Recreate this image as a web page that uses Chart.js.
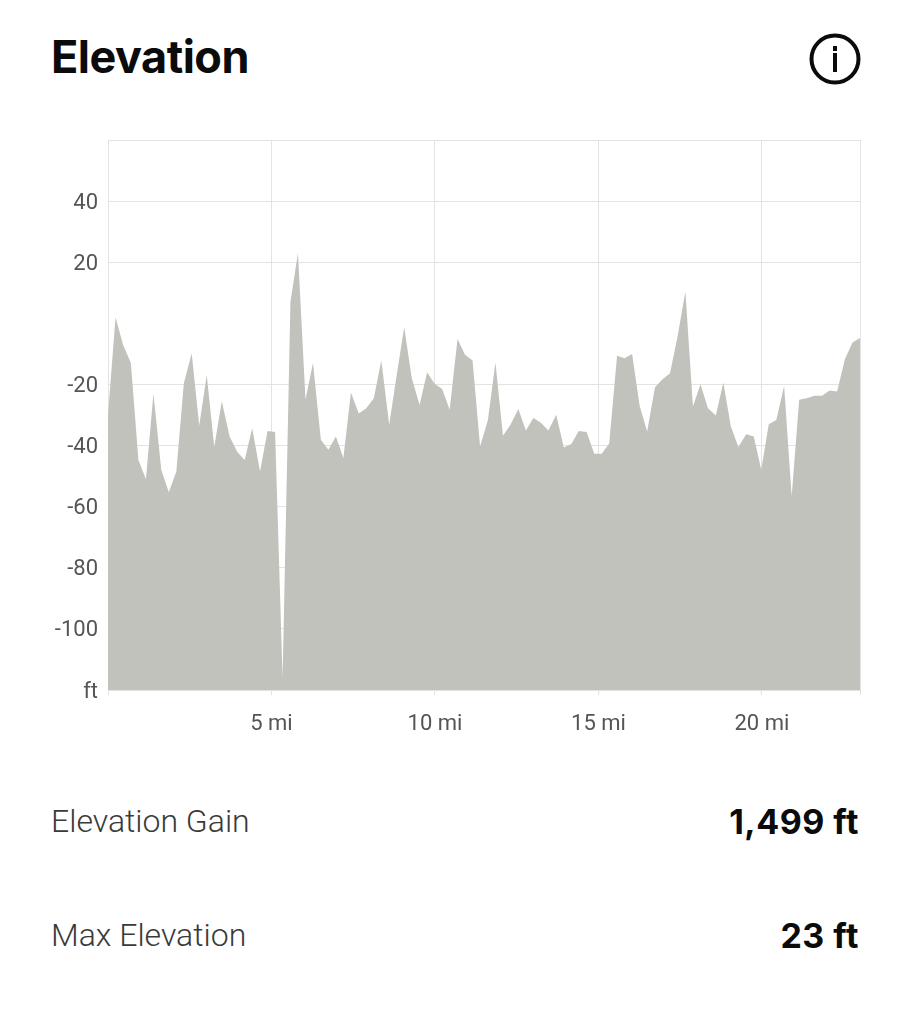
<!DOCTYPE html>
<html>
<head>
<meta charset="utf-8">
<title>Elevation</title>
<script src="https://cdn.jsdelivr.net/npm/chart.js@4"></script>
<style>
  html, body { margin: 0; padding: 0; background: #fff; }
  #page { position: relative; width: 911px; height: 1024px; overflow: hidden; font-family: Inter, sans-serif; }
  #title { position: absolute; left: 51px; top: 31px; font-size: 45px; line-height: 52px; font-weight: 700; color: #0b0b0b; letter-spacing: -0.5px; }
  #info { position: absolute; left: 809px; top: 33px; }
  #chartWrap { position: absolute; left: 0; top: 0; width: 911px; height: 760px; }
  .stat { position: absolute; left: 51px; width: 808px; display: flex; justify-content: space-between; align-items: baseline; }
  .stat .name { position: relative; top: -2px; font-family: Roboto, sans-serif; font-size: 32px; font-weight: 300; color: #3a3a3a; }
  .stat .val { font-size: 34px; font-weight: 700; color: #0b0b0b; letter-spacing: 0.5px; }
</style>
</head>
<body>
<div id="page">
  <div id="title">Elevation</div>
  <svg id="info" width="52" height="52" viewBox="0 0 52 52">
    <circle cx="26" cy="26" r="23.5" fill="none" stroke="#0b0b0b" stroke-width="4"/>
    <rect x="24" y="20" width="4" height="19" fill="#0b0b0b"/>
    <rect x="24" y="13" width="4" height="5" fill="#0b0b0b"/>
  </svg>
  <div id="chartWrap"><canvas id="elevChart"></canvas></div>
  <div class="stat" style="top:801px"><span class="name" id="gainName"></span><span class="val" id="gainVal"></span></div>
  <div class="stat" style="top:915px"><span class="name" id="maxName"></span><span class="val" id="maxVal"></span></div>
</div>
<script>
const miles = [
  0, 0.23, 0.46, 0.70, 0.93, 1.16, 1.39, 1.63, 1.86, 2.09,
  2.32, 2.56, 2.79, 3.02, 3.25, 3.48, 3.72, 3.95, 4.18, 4.41,
  4.65, 4.88, 5.11, 5.34, 5.58, 5.81, 6.04, 6.27, 6.51, 6.74,
  6.97, 7.20, 7.43, 7.67, 7.90, 8.13, 8.36, 8.60, 8.83, 9.06,
  9.29, 9.53, 9.76, 9.99, 10.22, 10.45, 10.69, 10.92, 11.15, 11.38,
  11.62, 11.85, 12.08, 12.31, 12.55, 12.78, 13.01, 13.24, 13.47, 13.71,
  13.94, 14.17, 14.40, 14.64, 14.87, 15.10, 15.33, 15.57, 15.80, 16.03,
  16.26, 16.49, 16.73, 16.96, 17.19, 17.42, 17.66, 17.89, 18.12, 18.35,
  18.59, 18.82, 19.05, 19.28, 19.52, 19.75, 19.98, 20.21, 20.44, 20.68,
  20.91, 21.14, 21.37, 21.61, 21.84, 22.07, 22.30, 22.54, 22.77, 23
];
const elevation = [
  -30, 2, -7, -13, -44.7, -51, -23, -48, -55.3, -48.5,
  -19.6, -9.8, -33.5, -16.9, -40.5, -25.5, -37, -42, -44.7, -34.3,
  -48.5, -35.2, -35.6, -116, 7.1, 23, -25, -13, -38.1, -41.4,
  -37, -44.1, -22.6, -29.5, -27.8, -24.5, -12.2, -33.2, -16.9, -1.3,
  -17.9, -26.7, -16, -19.8, -21.5, -28.3, -5.1, -10.3, -12.2, -40.3,
  -31.6, -12.8, -36.8, -33.2, -28, -35.1, -31, -32.5, -35.1, -29.9,
  -40.6, -39.5, -35.2, -35.6, -42.7, -42.7, -39.3, -10.6, -11.4, -10,
  -27, -35.4, -20.9, -18.3, -16.3, -4.3, 10.4, -27.2, -19.9, -27.8,
  -30.2, -19.4, -33.8, -40.5, -36.3, -37, -47.9, -33, -31.6, -20.5,
  -56.7, -25, -24.5, -23.7, -23.7, -22, -22.3, -11.7, -6.3, -4.8
];
const xTickLabels = { 5: '5 mi', 10: '10 mi', 15: '15 mi', 20: '20 mi' };
const yTickLabels = { 40: '40', 20: '20', '-20': '-20', '-40': '-40', '-60': '-60', '-80': '-80', '-100': '-100', '-120': 'ft' };
const statNames = ['Elevation Gain', 'Max Elevation'];
const statValues = ['1,499 ft', '23 ft'];

document.getElementById('gainName').textContent = statNames[0];
document.getElementById('gainVal').textContent = statValues[0];
document.getElementById('maxName').textContent = statNames[1];
document.getElementById('maxVal').textContent = statValues[1];

const gridColor = '#e3e3e1';
const tickFont = { family: 'Roboto, sans-serif', size: 22, weight: '400' };

const ctx = document.getElementById('elevChart');
const elevChart = new Chart(ctx, {
  type: 'line',
  data: {
    datasets: [{
      data: miles.map(function (m, i) { return { x: m, y: elevation[i] }; }),
      backgroundColor: '#c1c2bc',
      borderWidth: 0,
      pointRadius: 0,
      tension: 0,
      fill: 'start'
    }]
  },
  options: {
    responsive: true,
    maintainAspectRatio: false,
    animation: false,
    layout: { padding: { top: 140, right: 51, bottom: 0, left: 0 } },
    plugins: {
      legend: { display: false },
      tooltip: { enabled: false }
    },
    scales: {
      x: {
        type: 'linear',
        min: 0,
        max: 23,
        afterFit: function (scale) { scale.height = 70; },
        border: { color: gridColor },
        grid: { color: gridColor, tickLength: 5, tickColor: gridColor },
        ticks: {
          stepSize: 5,
          autoSkip: false,
          maxRotation: 0,
          padding: 16,
          color: '#555555',
          font: tickFont,
          callback: function (v) { return xTickLabels[v] || ''; }
        }
      },
      y: {
        min: -120,
        max: 60,
        afterFit: function (scale) { scale.width = 108; },
        border: { color: gridColor },
        grid: {
          // the zero line is left out on this chart
          color: function (c) { return c.tick.value === 0 ? 'rgba(0,0,0,0)' : gridColor; },
          drawTicks: false
        },
        ticks: {
          stepSize: 20,
          autoSkip: false,
          padding: 10,
          labelOffset: 2,
          color: '#555555',
          font: tickFont,
          callback: function (v) { return yTickLabels[v] || ''; }
        }
      }
    }
  }
});
</script>
</body>
</html>
